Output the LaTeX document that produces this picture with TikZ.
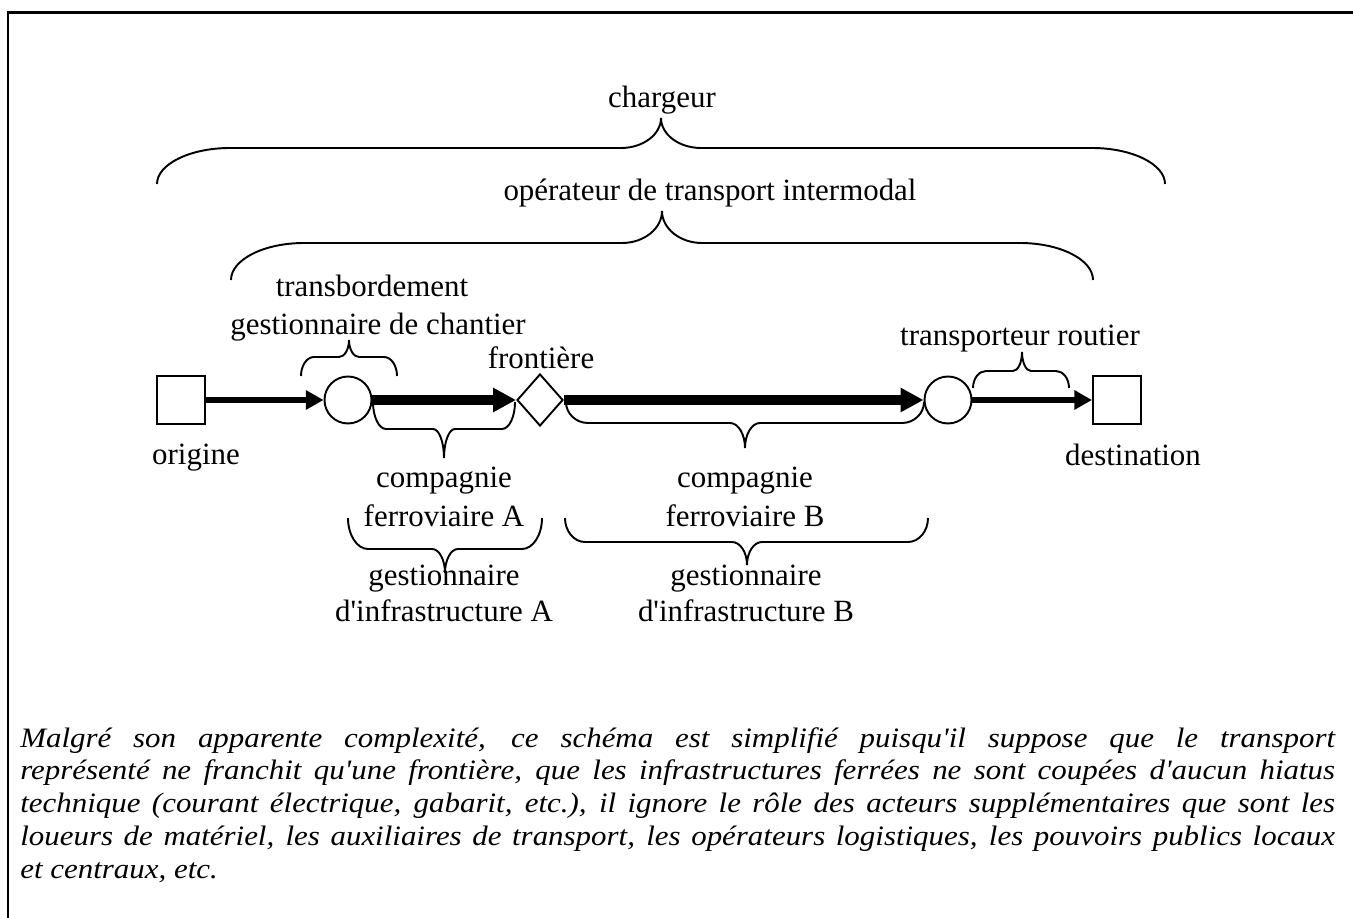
\documentclass[tikz,border=0pt]{standalone}
\usepackage{fontspec}
\setmainfont{Liberation Serif}[Ligatures=TeXOff]
\newfontfamily\notefamily{Liberation Serif}[Ligatures=TeXOff, FakeStretch=1.1]
\usetikzlibrary{shapes.geometric,arrows.meta}

\newcommand{\diagfont}{\fontsize{17.6}{22}\selectfont}
\newcommand{\notefont}{\notefamily\fontsize{16}{18.7}\selectfont\itshape\hyphenpenalty=10000\exhyphenpenalty=10000}
% brace: #1,#2 ends (x), #3 tip (x), #4 ends (y), #5 flat (y), #6 tip (y), #7 end radius, #8 tip radius
\newcommand{\wbrace}[8]{%
  \draw[brace] (#1,#4) .. controls (#1,{#4+0.55*(#5-#4)}) and ({#1+0.45*#7},#5) .. ({#1+#7},#5)
    -- ({#3-#8},#5) .. controls ({#3-0.45*#8},#5) and (#3,{#6-0.55*(#6-#5)}) .. (#3,#6)
    .. controls (#3,{#6-0.55*(#6-#5)}) and ({#3+0.45*#8},#5) .. ({#3+#8},#5)
    -- ({#2-#7},#5) .. controls ({#2-0.45*#7},#5) and (#2,{#4+0.55*(#5-#4)}) .. (#2,#4);}

\begin{document}
\begin{tikzpicture}[x=0.02cm, y=-0.02cm,
    station/.style={draw, line width=1.1pt, inner sep=0pt},
    terminal/.style={station, rectangle, minimum size=0.96cm},
    hub/.style={station, circle, minimum size=0.94cm},
    border/.style={station, diamond, minimum width=0.92cm, minimum height=1.04cm},
    road/.style={line width=3.2pt, -{Triangle[length=10pt,width=10.5pt]}},
    rail/.style={line width=5.2pt, -{Triangle[length=13pt,width=13pt]}},
    brace/.style={line width=1.1pt},
    lbl/.style={font=\diagfont, inner sep=0pt, anchor=base}]

    \useasboundingbox (0,0) rectangle (1353,918);
    \clip (0,0) rectangle (1353,918);

    % Frame
    \draw[line width=1.7pt] (8,13) rectangle (1500,1000);

    % Actors over the whole chain
    \node[lbl] (chargeur) at (662,108) {chargeur};
    \wbrace{157}{1165}{661}{184}{148}{118}{73}{40}
    \node[lbl] (oti) at (710,201) {opérateur de transport intermodal};
    \wbrace{231}{1093}{662}{280}{243}{211}{73}{40}

    % Chain
    \node[terminal] (orig) at (181,400) {};
    \node[hub] (tb1) at (348,400) {};
    \node[border] (front) at (540,400) {};
    \node[hub] (tb2) at (948,400) {};
    \node[terminal] (dest) at (1117,400) {};

    \draw[road] (orig) -- (tb1);
    \draw[rail] (tb1) -- (front);
    \draw[rail] (front) -- (tb2);
    \draw[road] (tb2) -- (dest);

    \node[lbl] (origine) at (196,465) {origine};
    \node[lbl] (destination) at (1133,466) {destination};
    \node[lbl] (frontiere) at (541,369) {frontière};

    % Transshipment
    \node[lbl] (transb) at (372,297) {transbordement};
    \node[lbl] (gestch) at (378,335) {gestionnaire de chantier};
    \wbrace{301}{397}{349}{376}{357}{340}{13}{10}

    % Road haulier
    \node[lbl] (routier) at (1020,346) {transporteur routier};
    \wbrace{973}{1069}{1022}{388}{371}{352}{13}{9}

    % Railway undertakings
    \wbrace{373}{515}{444}{402}{429}{458}{13}{11}
    \node[lbl] (compA) at (444,488) {compagnie};
    \node[lbl] (ferrA) at (444,527) {ferroviaire A};
    \wbrace{566}{924}{745}{402}{423}{448}{22}{15}
    \node[lbl] (compB) at (745,488) {compagnie};
    \node[lbl] (ferrB) at (745,527) {ferroviaire B};

    % Infrastructure managers
    \wbrace{348}{542}{445}{518}{549}{573}{20}{13}
    \node[lbl] (gestA) at (444,586) {gestionnaire};
    \node[lbl] (infraA) at (444,622) {d'infrastructure A};
    \wbrace{565}{928}{747}{518}{542}{565}{20}{15}
    \node[lbl] (gestB) at (746,586) {gestionnaire};
    \node[lbl] (infraB) at (746,622) {d'infrastructure B};

    % Note
    \node[anchor=base west, inner sep=0pt, text width=26.3cm, align=justify, font=\notefont] (note) at (20,747)
      {Malgré son apparente complexité, ce schéma est simplifié puisqu'il suppose que le transport\linebreak
       représenté ne franchit qu'une frontière, que les infrastructures ferrées ne sont coupées d'aucun hiatus\linebreak
       technique (courant électrique, gabarit, etc.), il ignore le rôle des acteurs supplémentaires que sont les\linebreak
       loueurs de matériel, les auxiliaires de transport, les opérateurs logistiques, les pouvoirs publics locaux\linebreak
       et centraux, etc.};
\end{tikzpicture}
\end{document}
